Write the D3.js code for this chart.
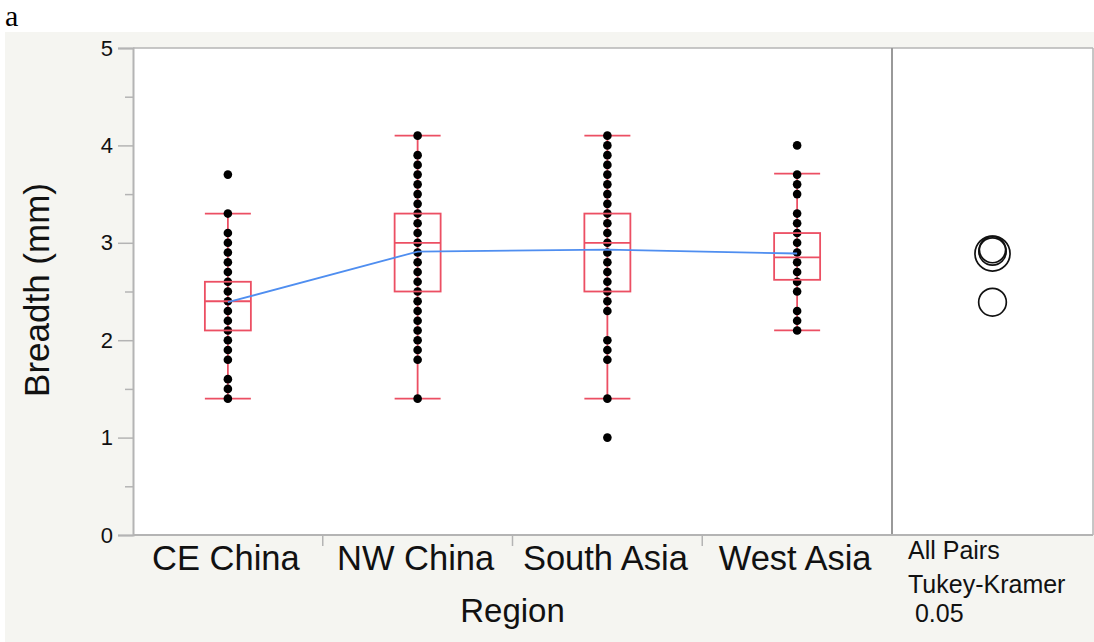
<!DOCTYPE html>
<html><head><meta charset="utf-8">
<script src="https://cdn.jsdelivr.net/npm/d3@7"></script>
<style>body{margin:0;background:#fff;}svg{display:block;}</style>
</head><body>
<svg id="c" width="1094" height="642"></svg>
<script>
const categories = ["CE China", "NW China", "South Asia", "West Asia"];
const ceChina = [3.7,3.3,3.1,3.0,2.9,2.8,2.7,2.6,2.5,2.4,2.3,2.2,2.1,2.0,1.9,1.8,1.6,1.5,1.4];
const nwChina = [4.1,3.9,3.8,3.7,3.6,3.5,3.4,3.3,3.2,3.1,3.0,2.9,2.8,2.7,2.6,2.5,2.4,2.3,2.2,2.1,2.0,1.9,1.8,1.4];
const southAsia = [4.1,4.0,3.9,3.8,3.7,3.6,3.5,3.4,3.3,3.2,3.1,3.0,2.9,2.8,2.7,2.6,2.5,2.4,2.3,2.0,1.9,1.8,1.4,1.0];
const westAsia = [4.0,3.7,3.6,3.5,3.3,3.2,3.1,3.0,2.9,2.8,2.7,2.6,2.5,2.3,2.2,2.1];
const whiskerLow = [1.4, 1.4, 1.4, 2.1];
const q1 = [2.1, 2.5, 2.5, 2.62];
const median = [2.4, 3.0, 3.0, 2.85];
const q3 = [2.6, 3.3, 3.3, 3.1];
const whiskerHigh = [3.3, 4.1, 4.1, 3.71];
const means = [2.39, 2.91, 2.93, 2.89];
const circleRadius = [0.142, 0.14, 0.135, 0.18];
const yTicks = [0, 1, 2, 3, 4, 5];
const yMinorTicks = [0.5, 1.5, 2.5, 3.5, 4.5];
const dotSets = [ceChina, nwChina, southAsia, westAsia];

const svg = d3.select("#c");
const L = 133, R = 892, RE = 1093, T = 48, B = 535;
const y = d3.scaleLinear().domain([0, 5]).range([B, T]);
const x = d3.scaleBand().domain(categories).range([L, R]);
const red = "#ec4f63", grey = "#b4b4b4";
const font = "'Liberation Sans', Arial, Helvetica, sans-serif";

svg.append("rect").attr("x",0).attr("y",0).attr("width",1094).attr("height",642).attr("fill","#fff");
svg.append("rect").attr("x",5).attr("y",32).attr("width",1089).attr("height",610).attr("fill","#f5f5f1");
svg.append("rect").attr("x",L).attr("y",T).attr("width",RE-L).attr("height",B-T).attr("fill","#fff");

svg.append("text").attr("x",5).attr("y",26).attr("font-family","'Liberation Serif', 'Times New Roman', serif")
  .attr("font-size",30).attr("fill","#000").text("a");

// frame
svg.append("line").attr("x1",L).attr("x2",RE).attr("y1",T).attr("y2",T).attr("stroke",grey).attr("stroke-width",1.5);
svg.append("line").attr("x1",RE).attr("x2",RE).attr("y1",T).attr("y2",B).attr("stroke",grey).attr("stroke-width",1.5);
svg.append("line").attr("x1",R).attr("x2",R).attr("y1",T).attr("y2",B).attr("stroke","#999").attr("stroke-width",2);

// y axis
const yAxis = d3.axisLeft(y).tickValues(yTicks).tickSize(15).tickPadding(5).tickFormat(d3.format("d"));
const ga = svg.append("g").attr("transform",`translate(${L},0)`).call(yAxis);
ga.select(".domain").attr("stroke",grey).attr("stroke-width",2);
ga.selectAll(".tick line").attr("stroke",grey).attr("stroke-width",1.5);
ga.selectAll(".tick text").attr("font-family",font).attr("font-size",22).attr("fill","#111");
const gm = svg.append("g").attr("transform",`translate(${L},0)`)
  .call(d3.axisLeft(y).tickValues(yMinorTicks).tickSize(8).tickFormat(""));
gm.select(".domain").remove();
gm.selectAll(".tick line").attr("stroke",grey).attr("stroke-width",1.5);

// x axis
svg.append("line").attr("x1",L).attr("x2",RE).attr("y1",B).attr("y2",B).attr("stroke",grey).attr("stroke-width",2);
const bounds = categories.slice(1).map(c => x(c));
svg.selectAll(".bt").data(bounds).enter().append("line")
  .attr("x1",d=>d).attr("x2",d=>d).attr("y1",B).attr("y2",B+11).attr("stroke",grey).attr("stroke-width",1.5);
svg.selectAll(".cl").data(categories).enter().append("text")
  .attr("x",d=>x(d)+x.bandwidth()/2-2).attr("y",570).attr("text-anchor","middle")
  .attr("font-family",font).attr("font-size",34.5).attr("fill","#111").text(d=>d);
svg.append("text").attr("x",(L+R)/2).attr("y",622).attr("text-anchor","middle")
  .attr("font-family",font).attr("font-size",33).attr("fill","#111").text("Region");
svg.append("text").attr("transform","translate(49,290) rotate(-90)").attr("text-anchor","middle")
  .attr("font-family",font).attr("font-size",35).attr("fill","#111").text("Breadth (mm)");

// boxes
const bw = 46;
categories.forEach((c,i) => {
  const cx = x(c) + x.bandwidth()/2;
  const g = svg.append("g");
  g.append("line").attr("x1",cx).attr("x2",cx).attr("y1",y(whiskerLow[i])).attr("y2",y(whiskerHigh[i]))
    .attr("stroke",red).attr("stroke-width",1.8);
  [whiskerLow[i], whiskerHigh[i]].forEach(v => g.append("line").attr("x1",cx-bw/2).attr("x2",cx+bw/2)
    .attr("y1",y(v)).attr("y2",y(v)).attr("stroke",red).attr("stroke-width",1.8));
  g.selectAll("circle").data(dotSets[i]).enter().append("circle")
    .attr("cx",cx).attr("cy",d=>y(d)).attr("r",4.3).attr("fill","#000");
  g.append("rect").attr("x",cx-bw/2).attr("width",bw).attr("y",y(q3[i])).attr("height",y(q1[i])-y(q3[i]))
    .attr("fill","none").attr("stroke",red).attr("stroke-width",1.8);
  g.append("line").attr("x1",cx-bw/2).attr("x2",cx+bw/2).attr("y1",y(median[i])).attr("y2",y(median[i]))
    .attr("stroke",red).attr("stroke-width",1.8);
});

// mean line
const line = d3.line().x((d,i)=>x(categories[i])+x.bandwidth()/2).y(d=>y(d));
svg.append("path").attr("d",line(means)).attr("fill","none").attr("stroke","#4f8ef0").attr("stroke-width",1.8);

// comparison circles
const ccx = (R+RE)/2;
const pxPerUnit = y(0)-y(1);
svg.selectAll(".cc").data(means).enter().append("circle")
  .attr("cx",ccx).attr("cy",d=>y(d)).attr("r",(d,i)=>circleRadius[i]*pxPerUnit)
  .attr("fill","none").attr("stroke","#111").attr("stroke-width",1.7);

// legend text
const lt = [["All Pairs",908,559],["Tukey-Kramer",908,593],[" 0.05",908,622]];
lt.forEach(t => svg.append("text").attr("x",t[1]).attr("y",t[2]).attr("font-family",font)
  .attr("font-size",25).attr("fill","#111").attr("xml:space","preserve").text(t[0]));
</script>
</body></html>
